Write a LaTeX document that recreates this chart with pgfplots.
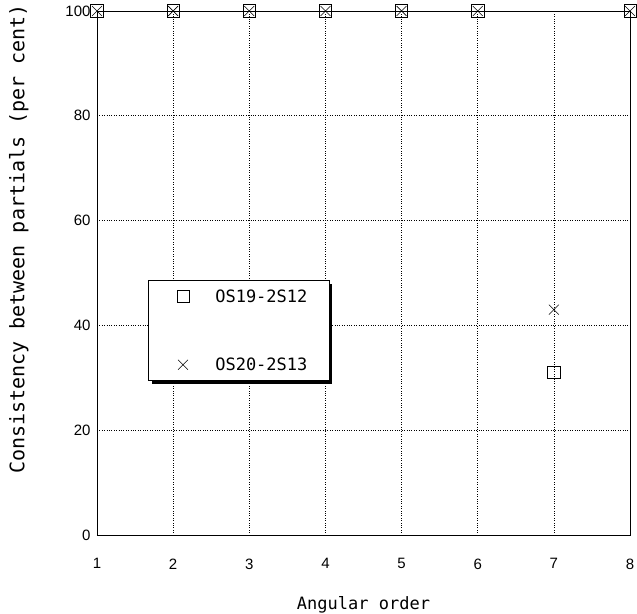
\documentclass[border=0pt]{standalone}
\usepackage{pgfplots}
\pgfplotsset{compat=1.18}
\usepackage{fontspec}
\setmainfont{Liberation Sans}
\newfontfamily\mono{DejaVu Sans Mono}
\usetikzlibrary{shadows,calc}
\begin{document}
\begin{tikzpicture}
\begin{axis}[
    scale only axis, width=533pt, height=524pt,
    xmin=1, xmax=8, ymin=0, ymax=100,
    xtick={1,...,8}, ytick={0,20,...,100},
    major tick length=0pt,
    grid=major, major grid style={black, dotted, line width=0.6pt},
    axis line style={black, line width=0.8pt},
    /pgf/number format/assume math mode=true,
    tick label style={font=\fontsize{15}{15}\selectfont},
    xticklabel style={yshift=-20pt},
    yticklabel style={xshift=-3pt},
    xlabel={\mono\fontsize{17}{17}\selectfont Angular order},
    ylabel={\mono\fontsize{20}{20}\selectfont Consistency between partials (per cent)},
    xlabel style={yshift=-20pt},
    ylabel style={xshift=34pt, yshift=30pt},
    clip=false,
    legend style={at={(0.0957,0.487)}, anchor=north west, draw=black, line width=1.4pt,
        fill=white, drop shadow={shadow xshift=3pt, shadow yshift=-3pt, fill=black, opacity=1},
        font=\mono\fontsize{17}{17}\selectfont, inner xsep=20pt, inner ysep=7pt,
        row sep=50pt},
    legend cell align=left,
    legend image code/.code={\draw[#1, line width=0.6pt] plot coordinates {(0pt,0pt)};\path (-14pt,0pt) (30pt,0pt);},
]
\addplot[only marks, mark=square, mark size=6.2pt, black, line width=0.6pt] coordinates {
(1,100) (2,100) (3,100) (4,100) (5,100) (6,100) (7,31) (8,100)};
\addlegendentry{OS19-2S12}
\addplot[only marks, mark=x, mark size=7pt, black, line width=0.6pt] coordinates {
(1,100) (2,100) (3,100) (4,100) (5,100) (6,100) (7,43) (8,100)};
\addlegendentry{OS20-2S13}
\end{axis}
\pgfresetboundingbox
\path[use as bounding box] ($(current axis.south west)+(-97pt,-78pt)$) rectangle ($(current axis.north east)+(7pt,11pt)$);
\end{tikzpicture}
\end{document}
